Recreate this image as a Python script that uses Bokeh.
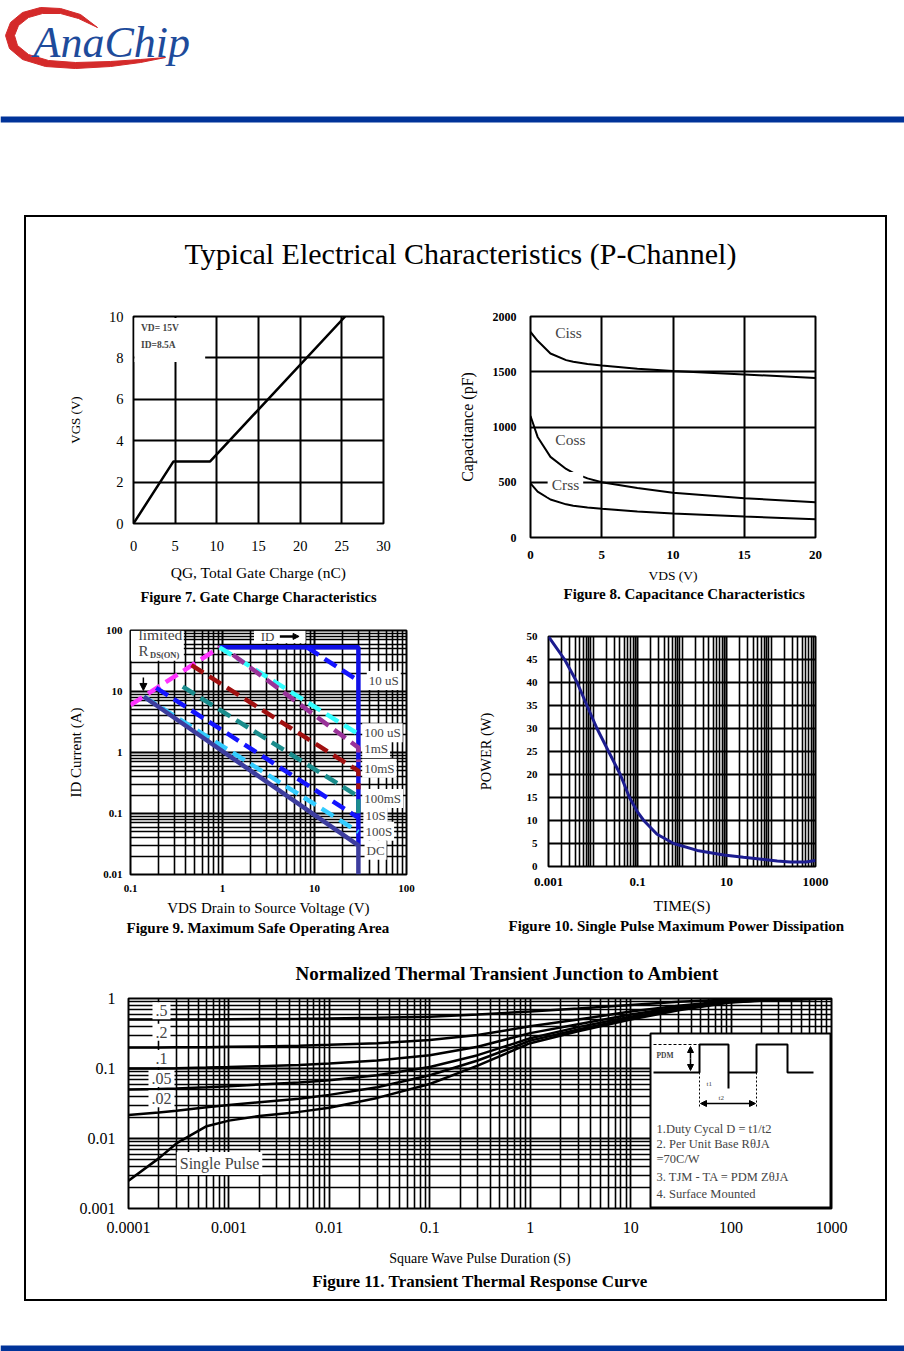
from bokeh.plotting import figure
from bokeh.models import (Range1d, FixedTicker, Label, Title, BoxAnnotation, Arrow,
                          NormalHead, Spacer, LinearScale)
from bokeh.layouts import column, row
from bokeh.embed import file_html
from bokeh.resources import INLINE

SERIF = "Liberation Serif"

# ---------------- data ----------------
# Figure 7: gate charge
qg_nc = [0.0, 4.8, 9.2, 25.4]
vgs_v = [0.0, 3.0, 3.0, 10.0]
f7_ticks_x = [0, 5, 10, 15, 20, 25, 30]
f7_ticks_y = [0, 2, 4, 6, 8, 10]

# Figure 8: capacitance
vds_cap = [0, 0.5, 1.4, 2.5, 3, 4, 5, 7.5, 10, 15, 20]
ciss_pf = [1860, 1780, 1665, 1605, 1590, 1570, 1557, 1528, 1506, 1476, 1443]
coss_pf = [1100, 910, 730, 620, 585, 535, 500, 448, 405, 355, 320]
crss_pf = [490, 415, 344, 300, 287, 272, 260, 236, 218, 189, 165]
f8_ticks_x = [0, 5, 10, 15, 20]
f8_ticks_y = [0, 500, 1000, 1500, 2000]
f8_labels = ["Ciss", "Coss", "Crss"]
f8_lab_x = [2.67, 2.8, 2.45]
f8_lab_y = [1856, 883, 479]

# Figure 9: safe operating area
soa_rds_v = [0.1, 0.93]
soa_rds_i = [6.0, 53.0]
soa_lim_v = [0.93, 30, 30]
soa_lim_i = [53.0, 53.0, 0.03]
soa_dc_v = [0.14, 30, 30]
soa_dc_i = [8.2, 0.03, 0.01]
soa_10us_v = [8.3, 30]
soa_10us_i = [53.0, 15.0]
soa_100us_v = [0.93, 30]
soa_100us_i = [53.0, 2.0]
soa_1ms_v = [1.3, 30, 30]
soa_1ms_i = [40.0, 1.2, 0.7]
soa_10ms_v = [0.46, 30, 30]
soa_10ms_i = [27.0, 0.5, 0.25]
soa_100ms_v = [0.37, 30, 30]
soa_100ms_i = [12.0, 0.19, 0.1]
soa_10s_v = [0.19, 30]
soa_10s_i = [11.5, 0.085]
soa_100s_v = [0.14, 30]
soa_100s_i = [8.2, 0.05]
f9_labels = ["10 uS", "100 uS", "1mS", "10mS", "100mS", "10S", "100S", "DC"]
f9_lab_x = [37.0, 33.0, 33.0, 33.0, 33.0, 34.0, 34.0, 35.0]
f9_lab_y = [15.2, 2.1, 1.16, 0.55, 0.176, 0.093, 0.051, 0.025]
f9_ticks_x = [0.1, 1, 10, 100]
f9_ticks_y = [0.01, 0.1, 1, 10, 100]
f9_tick_text_x = ["0.1", "1", "10", "100"]
f9_tick_text_y = ["0.01", "0.1", "1", "10", "100"]

# Figure 10: single pulse power
time_s = [0.001, 0.0023, 0.0044, 0.0073, 0.0123, 0.0224, 0.041, 0.066, 0.098,
          0.138, 0.275, 0.65, 2.2, 8.7, 24, 138, 271, 600, 1000]
power_w = [50, 45, 40, 35, 30, 25, 20, 15, 12, 10, 7, 5, 3.5, 2.5, 2.0, 1.2, 1.0, 1.0, 1.3]
f10_ticks_x = [0.001, 0.1, 10, 1000]
f10_tick_text_x = ["0.001", "0.1", "10", "1000"]
f10_ticks_y = [0, 5, 10, 15, 20, 25, 30, 35, 40, 45, 50]

# Figure 11: transient thermal response
t_pulse = [1e-4, 2e-4, 3e-4, 6e-4, 1e-3, 2e-3, 5e-3, 1e-2, 3e-2, 0.1, 0.3, 1, 3, 10, 30, 100, 300, 1000]
z_single = [0.0025, 0.0052, 0.0085, 0.0150, 0.0180, 0.0210, 0.0240, 0.0275, 0.038, 0.060, 0.110, 0.230, 0.340, 0.500, 0.680, 0.880, 0.960, 1.000]
z_d02 = [0.0216, 0.0235, 0.0250, 0.0280, 0.0300, 0.0330, 0.0370, 0.0420, 0.0540, 0.080, 0.130, 0.250, 0.360, 0.520, 0.700, 0.890, 0.965, 1.000]
z_d05 = [0.050, 0.051, 0.052, 0.054, 0.056, 0.059, 0.063, 0.068, 0.080, 0.105, 0.155, 0.270, 0.390, 0.550, 0.720, 0.900, 0.970, 1.000]
z_d1 = [0.100, 0.100, 0.101, 0.103, 0.105, 0.108, 0.112, 0.118, 0.130, 0.155, 0.205, 0.320, 0.430, 0.590, 0.750, 0.910, 0.975, 1.000]
z_d2 = [0.200, 0.200, 0.201, 0.202, 0.204, 0.207, 0.212, 0.218, 0.230, 0.255, 0.300, 0.400, 0.500, 0.650, 0.790, 0.930, 0.980, 1.000]
z_d5 = [0.500, 0.500, 0.500, 0.502, 0.505, 0.508, 0.512, 0.518, 0.530, 0.550, 0.590, 0.650, 0.720, 0.810, 0.900, 0.970, 0.990, 1.000]
f11_labels = [".5", ".2", ".1", ".05", ".02", "Single Pulse"]
f11_lab_x = [2.13e-4, 2.13e-4, 2.13e-4, 2.13e-4, 2.13e-4, 8.06e-4]
f11_lab_y = [0.67, 0.33, 0.139, 0.072, 0.037, 0.0044]
f11_ticks_x = [0.0001, 0.001, 0.01, 0.1, 1, 10, 100, 1000]
f11_tick_text_x = ["0.0001", "0.001", "0.01", "0.1", "1", "10", "100", "1000"]
f11_ticks_y = [0.001, 0.01, 0.1, 1]
f11_tick_text_y = ["0.001", "0.01", "0.1", "1"]
f11_notes = ["1.Duty Cycal D = t1/t2", "2. Per Unit Base R\u03b8JA", "=70C/W",
             "3. TJM - TA = PDM Z\u03b8JA", "4. Surface Mounted"]
f11_note_y = [1128, 1143, 1158, 1176, 1193]

# logo outline (decorative)
logo_x = [97, 80, 60, 40, 22, 10, 5, 9, 22, 45, 75, 110, 140, 165,
          140, 110, 75, 48, 28, 17, 14, 18, 28, 42, 60, 78]
logo_y = [27, 14, 8, 7, 12, 22, 35, 48, 59, 66, 68, 66, 62, 57,
          59, 61, 62, 60, 54, 45, 35, 25, 17, 13, 13, 18]


def log_minors(lo_exp, hi_exp, include_decades=False):
    out = []
    for e in range(lo_exp, hi_exp):
        for m in range(1 if include_decades else 2, 10):
            out.append(m * 10.0 ** e)
    return out


def style_chart(p, tick_size, tick_style="normal", label_size="13px"):
    p.outline_line_color = "black"
    p.outline_line_width = 2
    p.outline_line_alpha = 1
    p.background_fill_color = "white"
    p.border_fill_color = "white"
    for ax in p.axis:
        ax.axis_line_color = None
        ax.major_tick_line_color = None
        ax.minor_tick_line_color = None
        ax.major_tick_out = 0
        ax.major_tick_in = 0
        ax.minor_tick_out = 0
        ax.minor_tick_in = 0
        ax.major_label_text_font = SERIF
        ax.major_label_text_font_size = tick_size
        ax.major_label_text_font_style = tick_style
        ax.major_label_text_color = "black"
        ax.axis_label_text_font = SERIF
        ax.axis_label_text_font_size = label_size
        ax.axis_label_text_font_style = "normal"
        ax.axis_label_text_color = "black"
    for g in p.grid:
        g.grid_line_color = "black"
        g.grid_line_alpha = 1


def add_caption(p, text, size="15px", align="center", offset=0, standoff=5):
    t = Title(text=text, align=align, text_font=SERIF, text_font_size=size,
              text_font_style="bold", text_color="black", offset=offset, standoff=standoff)
    p.add_layout(t, "below")


def mk(width, height, xr, yr, l, r, t, b, **kw):
    return figure(width=width, height=height, x_range=xr, y_range=yr,
                  min_border_left=l, min_border_right=r, min_border_top=t, min_border_bottom=b,
                  output_backend="svg", toolbar_location=None, **kw)


# ---------------- header ----------------
header = figure(width=904, height=215, x_range=Range1d(0, 904), y_range=Range1d(215, 0),
                x_axis_location=None, y_axis_location=None, min_border=0,
                output_backend="svg", toolbar_location=None, outline_line_color=None)
header.grid.visible = False
header.patch(logo_x, logo_y, fill_color="#D42A2A", line_color="#D42A2A", line_width=1)
header.quad(left=[0], right=[904], top=[116], bottom=[122], fill_color="#003399", line_color=None)
header.add_layout(Label(x=33, y=42, text="AnaChip", text_font=SERIF, text_font_size="44px",
                        text_font_style="italic", text_color="#1E4B9B",
                        text_align="left", text_baseline="middle"))

# ---------------- title ----------------
ptitle = figure(width=859, height=83, x_range=Range1d(26, 885), y_range=Range1d(300, 217),
                x_axis_location=None, y_axis_location=None, min_border=0,
                output_backend="svg", toolbar_location=None, outline_line_color=None)
ptitle.grid.visible = False
ptitle.add_layout(Label(x=460, y=253, text="Typical Electrical Characteristics (P-Channel)",
                        text_font=SERIF, text_font_size="30px", text_color="black",
                        text_align="center", text_baseline="middle"))

# ---------------- Figure 7 ----------------
p7 = mk(429, 310, Range1d(0, 30), Range1d(0, 10), 107, 72, 16, 87)
style_chart(p7, "14.5px", label_size="15.5px")
p7.yaxis.axis_label_text_font_size = "13px"
p7.xaxis.ticker = FixedTicker(ticks=f7_ticks_x)
p7.yaxis.ticker = FixedTicker(ticks=f7_ticks_y)
p7.grid.grid_line_width = 2
p7.xaxis.axis_label = "QG, Total Gate Charge (nC)"
p7.yaxis.axis_label = "VGS (V)"
p7.xaxis.major_label_standoff = 17
p7.xaxis.axis_label_standoff = 10
p7.yaxis.major_label_standoff = 10
p7.yaxis.axis_label_standoff = 23
p7.add_layout(BoxAnnotation(left=0.12, right=8.6, bottom=7.8, top=9.93,
                            fill_color="white", fill_alpha=1, line_color=None))
p7.line(qg_nc, vgs_v, line_color="black", line_width=2.5)
p7.add_layout(Label(x=0.9, y=9.45, text="VD= 15V", text_font=SERIF, text_font_size="9.5px",
                    text_font_style="bold", text_baseline="middle"))
p7.add_layout(Label(x=0.9, y=8.6, text="ID=8.5A", text_font=SERIF, text_font_size="9.5px",
                    text_font_style="bold", text_baseline="middle"))
add_caption(p7, "Figure 7. Gate Charge Characteristics", size="14.5px", standoff=6)

# ---------------- Figure 8 ----------------
p8 = mk(430, 310, Range1d(0, 20), Range1d(0, 2000), 75, 70, 16, 73)
style_chart(p8, "12px", "bold", label_size="13.5px")
p8.xaxis.major_label_text_font_size = "13px"
p8.yaxis.axis_label_text_font_size = "16px"
p8.xaxis.ticker = FixedTicker(ticks=f8_ticks_x)
p8.yaxis.ticker = FixedTicker(ticks=f8_ticks_y)
p8.grid.grid_line_width = 2
p8.xaxis.axis_label = "VDS (V)"
p8.yaxis.axis_label = "Capacitance (pF)"
p8.xaxis.major_label_standoff = 13
p8.xaxis.axis_label_standoff = 6
p8.yaxis.major_label_standoff = 14
p8.yaxis.axis_label_standoff = 14
for ys in (ciss_pf, coss_pf, crss_pf):
    p8.line(vds_cap, ys, line_color="black", line_width=2)
for txt, lx, ly in zip(f8_labels, f8_lab_x, f8_lab_y):
    p8.add_layout(Label(x=lx, y=ly, text=txt, text_font=SERIF, text_font_size="15.5px",
                        text_align="center", text_baseline="middle",
                        background_fill_color="white" if txt == "Crss" else None,
                        padding=4 if txt == "Crss" else 0))
add_caption(p8, "Figure 8. Capacitance Characteristics", align="left", offset=33, standoff=-3)

# ---------------- Figure 9 ----------------
p9 = mk(429, 330, Range1d(0.1, 100), Range1d(0.01, 100), 104, 49, 20, 66,
        x_axis_type="log", y_axis_type="log")
style_chart(p9, "11px", "bold", label_size="15px")
p9.xaxis.ticker = FixedTicker(ticks=f9_ticks_x, minor_ticks=log_minors(-1, 2))
p9.yaxis.ticker = FixedTicker(ticks=f9_ticks_y, minor_ticks=log_minors(-2, 2))
p9.xaxis.major_label_overrides = dict(zip(f9_ticks_x, f9_tick_text_x))
p9.yaxis.major_label_overrides = dict(zip(f9_ticks_y, f9_tick_text_y))
for g in p9.grid:
    g.grid_line_width = 2
    g.minor_grid_line_color = "black"
    g.minor_grid_line_width = 1.6
p9.xaxis.axis_label = "VDS Drain to Source Voltage (V)"
p9.yaxis.axis_label = "ID Current (A)"
p9.xaxis.major_label_standoff = 10
p9.xaxis.axis_label_standoff = 5
p9.yaxis.major_label_standoff = 8
p9.yaxis.axis_label_standoff = 16
DASH = "14 7"
p9.line(soa_lim_v, soa_lim_i, line_color="#1010E6", line_width=4.5)
p9.line(soa_rds_v, soa_rds_i, line_color="#FF33FF", line_width=4.5, line_dash=DASH)
p9.line(soa_10us_v, soa_10us_i, line_color="#1414FF", line_width=4.5, line_dash=DASH)
p9.line(soa_100us_v, soa_100us_i, line_color="#33FFFF", line_width=4.5, line_dash=DASH)
p9.line(soa_1ms_v, soa_1ms_i, line_color="#993399", line_width=4.5, line_dash=DASH)
p9.line(soa_10ms_v, soa_10ms_i, line_color="#A01010", line_width=4.5, line_dash=DASH)
p9.line(soa_100ms_v, soa_100ms_i, line_color="#1A8C8C", line_width=4.5, line_dash=DASH)
p9.line(soa_10s_v, soa_10s_i, line_color="#1414FF", line_width=4.5, line_dash=DASH)
p9.line(soa_100s_v, soa_100s_i, line_color="#33CCFF", line_width=4.5, line_dash=DASH)
p9.line(soa_dc_v, soa_dc_i, line_color="#3D3D9E", line_width=4.5)
p9.add_layout(BoxAnnotation(left=0.101, right=0.38, bottom=32, top=99,
                            fill_color="white", fill_alpha=1, line_color=None))
p9.add_layout(Label(x=0.122, y=86, text="limited", text_font=SERIF, text_font_size="15.5px",
                    text_baseline="middle"))
p9.add_layout(Label(x=0.122, y=45.3, text="R", text_font=SERIF, text_font_size="15px",
                    text_baseline="middle"))
p9.add_layout(Label(x=0.163, y=39, text="DS(ON)", text_font=SERIF, text_font_size="8.5px",
                    text_font_style="bold", text_baseline="middle"))
p9.add_layout(Arrow(x_start=0.138, y_start=17, x_end=0.138, y_end=10.4, line_color="black",
                    line_width=1.5, end=NormalHead(size=7, fill_color="black", line_color="black")))
p9.add_layout(BoxAnnotation(left=2.2, right=8.0, bottom=62, top=99,
                            fill_color="white", fill_alpha=1, line_color=None))
p9.add_layout(Label(x=2.6, y=80, text="ID", text_font=SERIF, text_font_size="13px",
                    text_baseline="middle"))
p9.add_layout(Arrow(x_start=4.2, y_start=80, x_end=6.8, y_end=80, line_color="black",
                    line_width=2.5, end=NormalHead(size=6, fill_color="black", line_color="black")))
for txt, lx, ly in zip(f9_labels, f9_lab_x, f9_lab_y):
    p9.add_layout(Label(x=lx, y=ly, text=txt, text_font=SERIF, text_font_size="13px",
                        text_baseline="middle", background_fill_color="white", padding=2))
add_caption(p9, "Figure 9. Maximum Safe Operating Area", align="left", offset=-4, standoff=-2)

# ---------------- Figure 10 ----------------
p10 = mk(430, 330, Range1d(0.001, 1000), Range1d(0, 50), 93, 70, 26, 74, x_axis_type="log")
style_chart(p10, "11px", "bold", label_size="15.5px")
p10.xaxis.major_label_text_font_size = "13px"
p10.yaxis.axis_label_text_font_size = "14.5px"
p10.xaxis.ticker = FixedTicker(ticks=f10_ticks_x, minor_ticks=log_minors(-3, 3, True))
p10.yaxis.ticker = FixedTicker(ticks=f10_ticks_y)
p10.xaxis.major_label_overrides = dict(zip(f10_ticks_x, f10_tick_text_x))
p10.xgrid.grid_line_width = 1.6
p10.xgrid.minor_grid_line_color = "black"
p10.xgrid.minor_grid_line_width = 1.6
p10.ygrid.grid_line_color = "black"
p10.ygrid.grid_line_width = 1.8
p10.xaxis.axis_label = "TIME(S)"
p10.yaxis.axis_label = "POWER (W)"
p10.xaxis.major_label_standoff = 11
p10.xaxis.axis_label_standoff = 8
p10.yaxis.major_label_standoff = 11
p10.yaxis.axis_label_standoff = 30
p10.line(time_s, power_w, line_color="#1C1C8F", line_width=3)
add_caption(p10, "Figure 10. Single Pulse Maximum Power Dissipation", align="left",
            offset=-40, standoff=-1)

# ---------------- Figure 11 ----------------
p11 = mk(859, 359, Range1d(0.0001, 1000), Range1d(0.001, 1), 102, 54, 58, 91,
         x_axis_type="log", y_axis_type="log")
style_chart(p11, "16px", label_size="14px")
p11.xaxis.ticker = FixedTicker(ticks=f11_ticks_x, minor_ticks=log_minors(-4, 3))
p11.yaxis.ticker = FixedTicker(ticks=f11_ticks_y, minor_ticks=log_minors(-3, 0))
p11.xaxis.major_label_overrides = dict(zip(f11_ticks_x, f11_tick_text_x))
p11.yaxis.major_label_overrides = dict(zip(f11_ticks_y, f11_tick_text_y))
for g in p11.grid:
    g.grid_line_width = 1.8
    g.minor_grid_line_color = "black"
    g.minor_grid_line_width = 1.6
p11.xaxis.axis_label = "Square Wave Pulse Duration (S)"
p11.xaxis.major_label_standoff = 13
p11.xaxis.axis_label_standoff = 15
p11.yaxis.major_label_standoff = 13
p11.add_layout(Title(text="Normalized Thermal Transient Junction to Ambient", align="left",
                     offset=167, standoff=29, text_font=SERIF, text_font_size="19px",
                     text_font_style="bold", text_color="black"), "above")
for zs in (z_single, z_d02, z_d05, z_d1, z_d2, z_d5):
    p11.line(t_pulse, zs, line_color="black", line_width=2.5)
for txt, lx, ly in zip(f11_labels, f11_lab_x, f11_lab_y):
    p11.add_layout(Label(x=lx, y=ly, text=txt, text_font=SERIF, text_font_size="16px",
                         text_align="center", text_baseline="middle",
                         background_fill_color="white", padding=3))
# inset legend box, drawn in the frame's pixel space
p11.extra_x_ranges = {"px": Range1d(128, 831)}
p11.extra_y_ranges = {"py": Range1d(1208, 998)}
p11.extra_x_scales = {"px": LinearScale()}
p11.extra_y_scales = {"py": LinearScale()}
PX = dict(x_range_name="px", y_range_name="py")
p11.quad(left=[650], right=[830], top=[1033], bottom=[1207], fill_color="white",
         line_color="black", line_width=2, **PX)
p11.line([653, 699], [1044, 1044], line_color="black", line_width=1.2, line_dash="3 2", **PX)
p11.line([653, 699, 699, 728, 728, 756, 756, 787, 787, 813],
         [1072, 1072, 1044, 1044, 1072, 1072, 1044, 1044, 1072, 1072],
         line_color="black", line_width=2, **PX)
p11.line([728, 728], [1072, 1088], line_color="black", line_width=2, **PX)
p11.line([699, 699], [1072, 1107], line_color="black", line_width=1, line_dash="2 2", **PX)
p11.line([756, 756], [1072, 1107], line_color="black", line_width=1, line_dash="2 2", **PX)
p11.add_layout(Arrow(x_start=690, y_start=1058, x_end=690, y_end=1046, line_width=1.5,
                     end=NormalHead(size=6, fill_color="black"), **PX))
p11.add_layout(Arrow(x_start=690, y_start=1058, x_end=690, y_end=1070, line_width=1.5,
                     end=NormalHead(size=6, fill_color="black"), **PX))
p11.add_layout(Arrow(x_start=700, y_start=1103, x_end=755, y_end=1103, line_width=1.5,
                     start=NormalHead(size=6, fill_color="black"),
                     end=NormalHead(size=6, fill_color="black"), **PX))
p11.add_layout(Label(x=656, y=1055, text="PDM", text_font=SERIF, text_font_size="7.5px",
                     text_font_style="bold", text_baseline="middle", **PX))
p11.add_layout(Label(x=706, y=1083, text="t1", text_font=SERIF, text_font_size="7px",
                     text_baseline="middle", **PX))
p11.add_layout(Label(x=718, y=1097, text="t2", text_font=SERIF, text_font_size="7px",
                     text_baseline="middle", **PX))
for note, ny in zip(f11_notes, f11_note_y):
    p11.add_layout(Label(x=656, y=ny, text=note, text_font=SERIF,
                         text_font_size="12.5px", text_baseline="middle", **PX))
add_caption(p11, "Figure 11. Transient Thermal Response Curve", size="17px", standoff=3)

# ---------------- footer ----------------
footer = figure(width=904, height=50, x_range=Range1d(0, 904), y_range=Range1d(1351, 1301),
                x_axis_location=None, y_axis_location=None, min_border=0,
                output_backend="svg", toolbar_location=None, outline_line_color=None)
footer.grid.visible = False
footer.quad(left=[0], right=[904], top=[1345], bottom=[1351], fill_color="#003399", line_color=None)

box = column(column(ptitle),
             row(column(p7), column(p8)),
             row(column(p9), column(p10)),
             column(p11), styles={"border": "2px solid black"})
layout = column(header, row(Spacer(width=24, height=1086), box), footer)

open("out.html", "w").write(file_html(layout, INLINE))
